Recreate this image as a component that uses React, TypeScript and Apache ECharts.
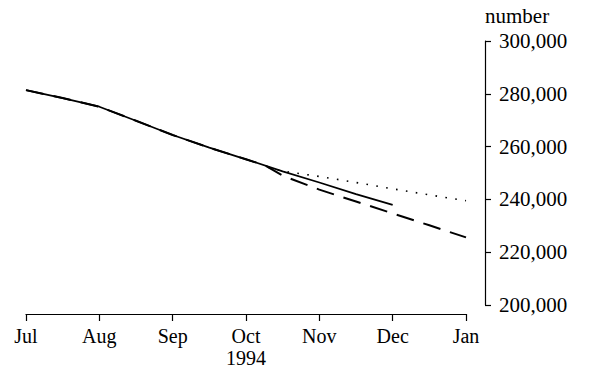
import React, { useEffect, useRef } from "react";
import * as echarts from "echarts";

const monthLabels = ["Jul", "Aug", "Sep", "Oct", "Nov", "Dec", "Jan"];
const yearLabel = "1994";
const yearUnderIndex = 3;
const yAxisName = "number";

// x positions in months after 1 Jul 1994
const solidMonths = [0, 0.5, 1, 1.5, 2, 2.5, 3, 3.5, 4, 4.5, 5];
const solidValues = [281400, 278400, 275100, 269800, 264400, 259600, 255200, 250600, 246400, 242000, 237900];

const dashedMonths = [0, 0.5, 1, 1.5, 2, 2.5, 3, 3.25, 3.5, 4, 4.5, 5, 5.5, 6];
const dashedValues = [281400, 278400, 275100, 269800, 264400, 259600, 255200, 253000, 249000, 243700, 239200, 234700, 230200, 225600];

const dottedMonths = [3.3, 3.5, 4, 4.5, 5, 5.5, 6];
const dottedValues = [252200, 250700, 248700, 246400, 244000, 241700, 239500];

const FONT = '"Liberation Serif", "Times New Roman", serif';

const pairs = (xs: number[], ys: number[]) => xs.map((x, i) => [x, ys[i]]);

export default function App() {
  const ref = useRef<HTMLDivElement>(null);
  useEffect(() => {
    if (!ref.current) return;
    const chart = echarts.init(ref.current, null, { renderer: "svg" });
    chart.setOption({
      animation: false,
      backgroundColor: "#fff",
      grid: { left: 26, right: 123, top: 41, bottom: 69, containLabel: false },
      xAxis: {
        type: "value",
        min: 0,
        max: 6,
        interval: 1,
        offset: 9,
        splitLine: { show: false },
        axisLine: { show: true, onZero: false, lineStyle: { color: "#000", width: 1.2 } },
        axisTick: { show: true, inside: false, length: 7, lineStyle: { color: "#000", width: 1.2 } },
        axisLabel: {
          color: "#000",
          fontFamily: FONT,
          fontSize: 20,
          lineHeight: 22,
          margin: 11,
          formatter: (v: number) => {
            const i = Math.round(v);
            const m = monthLabels[i] ?? "";
            return i === yearUnderIndex ? m + "\n" + yearLabel : m;
          },
        },
      },
      yAxis: {
        type: "value",
        position: "right",
        offset: 19,
        min: 200000,
        max: 300000,
        interval: 20000,
        name: yAxisName,
        nameLocation: "end",
        nameGap: 15,
        nameTextStyle: { color: "#000", fontFamily: FONT, fontSize: 21, align: "left" },
        splitLine: { show: false },
        axisLine: { show: true, onZero: false, lineStyle: { color: "#000", width: 1.2 } },
        axisTick: { show: true, inside: false, length: 6, lineStyle: { color: "#000", width: 1.2 } },
        axisLabel: {
          color: "#000",
          fontFamily: FONT,
          fontSize: 21,
          margin: 14,
          formatter: (v: number) => v.toLocaleString("en-US"),
        },
      },
      series: [
        {
          type: "line",
          data: pairs(solidMonths, solidValues),
          showSymbol: false,
          lineStyle: { color: "#000", width: 1.8, type: "solid" },
          z: 3,
        },
        {
          type: "line",
          data: pairs(dashedMonths, dashedValues),
          showSymbol: false,
          lineStyle: { color: "#000", width: 2, type: [18, 10] },
          z: 2,
        },
        {
          type: "line",
          data: pairs(dottedMonths, dottedValues),
          showSymbol: false,
          lineStyle: { color: "#000", width: 1.6, type: [1.6, 8.4] },
          z: 2,
        },
      ],
    });
    return () => chart.dispose();
  }, []);
  return (
    <div
      ref={ref}
      style={{ position: "fixed", left: 0, top: 0, width: 589, height: 374, background: "#fff" }}
    />
  );
}
